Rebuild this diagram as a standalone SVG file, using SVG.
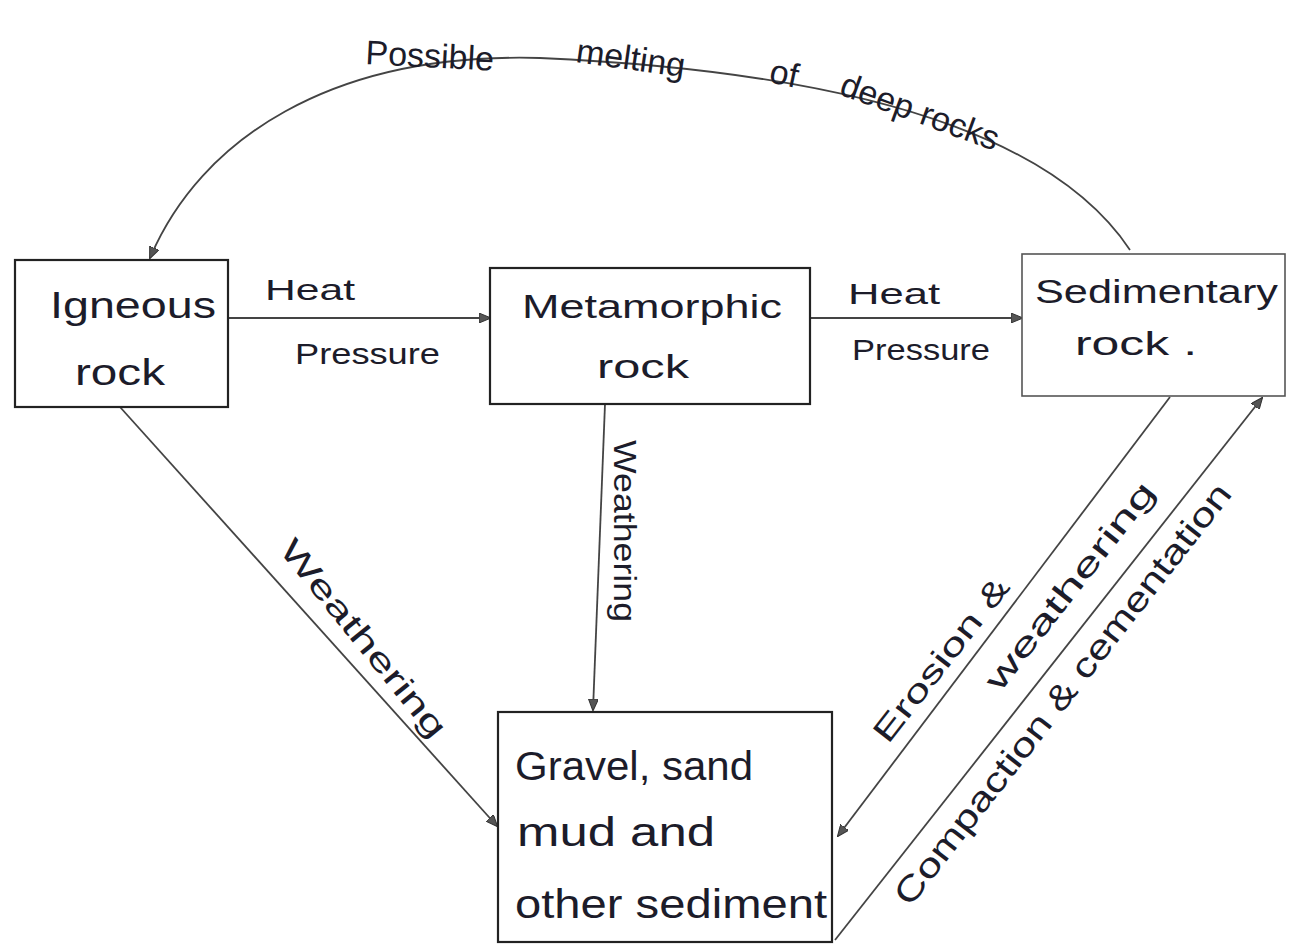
<svg xmlns="http://www.w3.org/2000/svg" width="1301" height="948" viewBox="0 0 1301 948">
<style>
.box{fill:#fff;stroke:#222;stroke-width:2.2}
.lbl{font-family:"Liberation Sans",Arial,sans-serif;fill:#1c1c2a}
.conn{fill:none;stroke:#444;stroke-width:1.8}
</style>
<defs>
<marker id="ah" viewBox="0 0 12 10" refX="11" refY="5" markerWidth="12" markerHeight="10" markerUnits="userSpaceOnUse" orient="auto">
<path d="M0,0 L12,5 L0,10 Z" fill="#555" stroke="#333" stroke-width="1"/>
</marker>
</defs>
<rect width="1301" height="948" fill="#fff"/>

<g id="connectors">
<path class="conn" d="M1130,250 C1070,160 920,75 540,58 C330,52 200,140 150,258" marker-end="url(#ah)"/>
<line class="conn" x1="229" y1="318" x2="490" y2="318" marker-end="url(#ah)"/>
<line class="conn" x1="810" y1="318" x2="1022" y2="318" marker-end="url(#ah)"/>
<line class="conn" x1="120" y1="407" x2="497" y2="826" marker-end="url(#ah)"/>
<line class="conn" x1="605" y1="404" x2="593" y2="710" marker-end="url(#ah)"/>
<line class="conn" x1="1170" y1="397" x2="838" y2="836" marker-end="url(#ah)"/>
<line class="conn" x1="835" y1="940" x2="1262" y2="398" marker-end="url(#ah)"/>
</g>

<g id="edge-labels">
<text class="lbl" font-size="34" x="365" y="64" transform="rotate(3 365 64)">Possible</text>
<text class="lbl" font-size="34" x="575" y="62" transform="rotate(8 575 62)">melting</text>
<text class="lbl" font-size="34" x="768" y="82" transform="rotate(12 768 82)">of</text>
<text class="lbl" font-size="34" x="838" y="94" transform="rotate(20 838 94)">deep rocks</text>
<text class="lbl" font-size="30" x="265" y="300" textLength="90" lengthAdjust="spacingAndGlyphs">Heat</text>
<text class="lbl" font-size="30" x="295" y="364" textLength="145" lengthAdjust="spacingAndGlyphs">Pressure</text>
<text class="lbl" font-size="30" x="848" y="304" textLength="92" lengthAdjust="spacingAndGlyphs">Heat</text>
<text class="lbl" font-size="30" x="852" y="360" textLength="138" lengthAdjust="spacingAndGlyphs">Pressure</text>
<text class="lbl" font-size="32" x="278" y="550" transform="rotate(51 278 550)" textLength="245" lengthAdjust="spacingAndGlyphs">Weathering</text>
<text class="lbl" font-size="32" x="614" y="440" transform="rotate(90 614 440)" textLength="182" lengthAdjust="spacingAndGlyphs">Weathering</text>
<text class="lbl" font-size="32" x="888" y="745" transform="rotate(-52 888 745)" textLength="200" lengthAdjust="spacingAndGlyphs">Erosion &amp;</text>
<text class="lbl" font-size="32" x="1000" y="693" transform="rotate(-52 1000 693)" textLength="255" lengthAdjust="spacingAndGlyphs">weathering</text>
<text class="lbl" font-size="34" x="910" y="908" transform="rotate(-52 910 908)" textLength="525" lengthAdjust="spacingAndGlyphs">Compaction &amp; cementation</text>
</g>

<g id="igneous">
<rect class="box" x="15" y="260" width="213" height="147"/>
<text class="lbl" font-size="36" x="50" y="318" textLength="166" lengthAdjust="spacingAndGlyphs">Igneous</text>
<text class="lbl" font-size="36" x="75" y="385" textLength="90" lengthAdjust="spacingAndGlyphs">rock</text>
</g>

<g id="metamorphic">
<rect class="box" x="490" y="268" width="320" height="136"/>
<text class="lbl" font-size="34" x="522" y="318" textLength="260" lengthAdjust="spacingAndGlyphs">Metamorphic</text>
<text class="lbl" font-size="34" x="597" y="378" textLength="92" lengthAdjust="spacingAndGlyphs">rock</text>
</g>

<g id="sedimentary">
<rect class="box" x="1022" y="254" width="263" height="142" style="stroke:#555;stroke-width:1.6"/>
<text class="lbl" font-size="34" x="1035" y="303" textLength="243" lengthAdjust="spacingAndGlyphs">Sedimentary</text>
<text class="lbl" font-size="34" x="1075" y="355" textLength="122" lengthAdjust="spacingAndGlyphs">rock .</text>
</g>

<g id="sediment">
<rect class="box" x="498" y="712" width="334" height="230"/>
<text class="lbl" font-size="40" x="515" y="780" textLength="238" lengthAdjust="spacingAndGlyphs">Gravel, sand</text>
<text class="lbl" font-size="40" x="517" y="846" textLength="198" lengthAdjust="spacingAndGlyphs">mud  and</text>
<text class="lbl" font-size="40" x="515" y="918" textLength="312" lengthAdjust="spacingAndGlyphs">other sediment</text>
</g>
</svg>
